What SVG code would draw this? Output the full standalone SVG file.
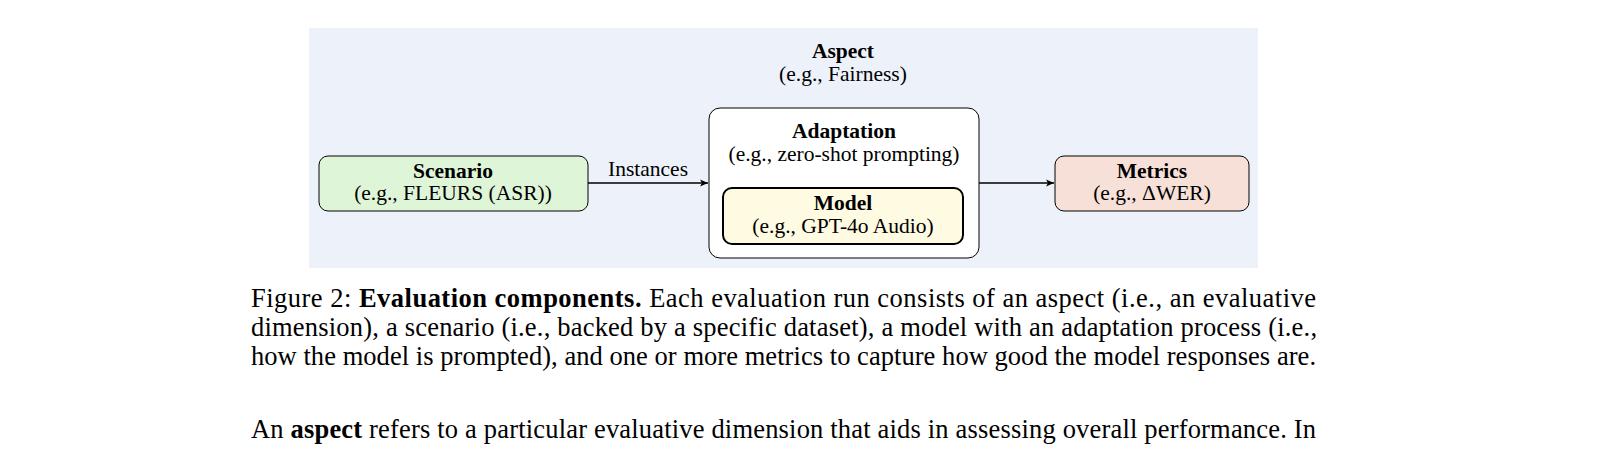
<svg xmlns="http://www.w3.org/2000/svg" width="1618" height="463" viewBox="0 0 1618 463">
<style>
text{font-family:"Liberation Serif","Times New Roman",serif;fill:#000}
.n{font-size:21.5px}
.b{font-weight:bold}
.c{font-size:26.5px}
.box{stroke:#000;stroke-width:1}
</style>
<defs><marker id="ar" markerWidth="10" markerHeight="8" refX="9" refY="4" orient="auto" markerUnits="userSpaceOnUse"><path d="M1,0.5 L9,4 L1,7.5 L3,4 Z" fill="#000"/></marker></defs>
<rect x="309" y="28" width="949" height="240" fill="#edf2fa"/>
<g id="aspect" text-anchor="middle"><text x="843" y="58" class="n b">Aspect</text><text x="843" y="81" class="n">(e.g., Fairness)</text></g>
<g id="scenario" text-anchor="middle"><rect class="box" x="319" y="156" width="269" height="55" rx="9" fill="#dff5d8"/><text x="453" y="178" class="n b">Scenario</text><text x="453" y="200" class="n">(e.g., FLEURS (ASR))</text></g>
<g id="adaptation" text-anchor="middle"><rect class="box" x="709" y="108" width="270" height="150" rx="11" fill="#fff"/><text x="844" y="138" class="n b">Adaptation</text><text x="844" y="161" class="n">(e.g., zero-shot prompting)</text></g>
<g id="model" text-anchor="middle"><rect x="723" y="188" width="240" height="56" rx="9" fill="#fffbe3" stroke="#000" stroke-width="2"/><text x="843" y="210" class="n b">Model</text><text x="843" y="233" class="n">(e.g., GPT-4o Audio)</text></g>
<g id="metrics" text-anchor="middle"><rect class="box" x="1055" y="156" width="194" height="55" rx="9" fill="#f7e0d8"/><text x="1152" y="178" class="n b">Metrics</text><text x="1152" y="200" class="n">(e.g., ΔWER)</text></g>
<g id="connectors" stroke="#000" stroke-width="1.3" fill="none">
<line x1="588" y1="183" x2="708" y2="183" marker-end="url(#ar)"/>
<line x1="979" y1="183" x2="1054" y2="183" marker-end="url(#ar)"/>
</g>
<text x="648" y="176" class="n" text-anchor="middle">Instances</text>
<text x="251" y="307" class="c" textLength="1065" lengthAdjust="spacing">Figure 2: <tspan class="b">Evaluation components.</tspan> Each evaluation run consists of an aspect (i.e., an evaluative</text>
<text x="251" y="336" class="c" textLength="1066" lengthAdjust="spacing">dimension), a scenario (i.e., backed by a specific dataset), a model with an adaptation process (i.e.,</text>
<text x="251" y="365" class="c" textLength="1065" lengthAdjust="spacing">how the model is prompted), and one or more metrics to capture how good the model responses are.</text>
<text x="251" y="438" class="c" textLength="1065" lengthAdjust="spacing">An <tspan class="b">aspect</tspan> refers to a particular evaluative dimension that aids in assessing overall performance. In</text>
</svg>
